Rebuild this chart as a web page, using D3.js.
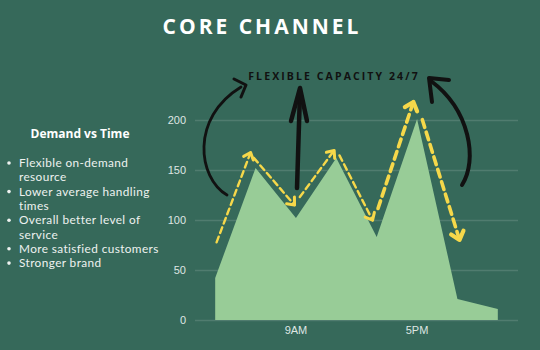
<!DOCTYPE html>
<html>
<head>
<meta charset="utf-8">
<script src="https://cdn.jsdelivr.net/npm/d3@7"></script>
<style>
  html, body { margin: 0; padding: 0; background: #36695a; }
  svg { display: block; }
</style>
</head>
<body>
<svg id="chart" width="540" height="350"></svg>
<script>
// ---- data ----
const categories = ["T1", "T2", "T3", "T4", "T5", "T6", "T7", "T8"];
const demand = [42, 152, 102, 162, 83, 201, 21, 11];
const xTickLabels = ["", "", "9AM", "", "", "5PM", "", ""];
const yTicks = [0, 50, 100, 150, 200];
const title = "CORE CHANNEL";
const annotation = "FLEXIBLE CAPACITY 24/7";
const panelTitle = "Demand vs Time";
const bullets = [
  ["Flexible on-demand", "resource"],
  ["Lower average handling", "times"],
  ["Overall better level of", "service"],
  ["More satisfied customers"],
  ["Stronger brand"]
];

// ---- layout ----
const W = 540, H = 350;
const plot = { left: 195, right: 518, top: 120, bottom: 320 };
const colors = {
  bg: "#36695a", area: "#98cc97", grid: "rgba(255,255,255,0.13)",
  tick: "#dfe6e3", text: "#eef2f0", yellow: "#f6d84a", black: "#111111"
};

const svg = d3.select("#chart");
svg.append("rect").attr("width", W).attr("height", H).attr("fill", colors.bg);

const x = d3.scaleBand().domain(categories).range([plot.left, plot.right]);
const cx = c => x(c) + x.bandwidth() / 2;
const y = d3.scaleLinear().domain([0, 200]).range([plot.bottom, plot.top]);

// grid + y axis
const yAxis = svg.append("g")
  .attr("transform", `translate(${plot.left},0)`)
  .call(d3.axisLeft(y).tickValues(yTicks).tickSize(-(plot.right - plot.left)).tickPadding(9));
yAxis.select(".domain").remove();
yAxis.selectAll(".tick line").attr("stroke", colors.grid).attr("stroke-width", 1.5);
yAxis.selectAll(".tick text").attr("fill", colors.tick)
  .style("font-family", "'Liberation Sans', Arial, sans-serif").style("font-size", "11px");

// area
const pts = categories.map((c, i) => ({ c, v: demand[i] }));
svg.append("path")
  .datum(pts)
  .attr("fill", colors.area)
  .attr("d", d3.area().x(d => cx(d.c)).y0(y(0)).y1(d => y(d.v)));

// x axis
const xAxis = svg.append("g")
  .attr("transform", `translate(0,${plot.bottom})`)
  .call(d3.axisBottom(x).tickSize(0).tickPadding(6).tickFormat((d, i) => xTickLabels[i]));
xAxis.select(".domain").remove();
xAxis.selectAll(".tick text").attr("fill", colors.tick)
  .style("font-family", "'Liberation Sans', Arial, sans-serif").style("font-size", "11px");

// ---- yellow dashed arrows following the outline ----
const arrowSegs = [
  { from: 0, to: 1, t0: 0.29, t1: 1.11, d0: 11, d1: 10, w: 2.4, dash: "6,4", head: 8 },
  { from: 1, to: 2, t0: -0.14, t1: 0.83, d0: 5, d1: 7, w: 2.4, dash: "6,4", head: 8 },
  { from: 2, to: 3, t0: 0.27, t1: 1.07, d0: 8.5, d1: 6, w: 2.4, dash: "6,4", head: 8 },
  { from: 3, to: 4, t0: -0.01, t1: 0.81, d0: 4, d1: 4, w: 2.4, dash: "6,4", head: 8 },
  { from: 4, to: 5, t0: 0.22, t1: 1.12, d0: 8, d1: 9, w: 3.6, dash: "8,5", head: 10 },
  { from: 5, to: 6, t0: 0.01, t1: 0.69, d0: 5, d1: 15, w: 3.6, dash: "8,5", head: 10 }
];
const gY = svg.append("g").attr("fill", "none").attr("stroke", colors.yellow)
  .attr("stroke-linecap", "round").attr("stroke-linejoin", "round");
arrowSegs.forEach(s => {
  const ax = cx(categories[s.from]), ay = y(demand[s.from]);
  const bx = cx(categories[s.to]), by = y(demand[s.to]);
  const len = Math.hypot(bx - ax, by - ay);
  const ux = (bx - ax) / len, uy = (by - ay) / len;
  let nx = uy, ny = -ux;
  if (ny > 0) { nx = -nx; ny = -ny; }
  const sx = ax + ux * len * s.t0 + nx * s.d0, sy = ay + uy * len * s.t0 + ny * s.d0;
  const ex = ax + ux * len * s.t1 + nx * s.d1, ey = ay + uy * len * s.t1 + ny * s.d1;
  gY.append("path").attr("d", `M${sx},${sy}L${ex},${ey}`)
    .attr("stroke-width", s.w).attr("stroke-dasharray", s.dash);
  const dx = (ex - sx), dy = (ey - sy), l2 = Math.hypot(dx, dy);
  const bxu = -dx / l2, byu = -dy / l2;
  const ang = 0.7;
  const rot = a => [bxu * Math.cos(a) - byu * Math.sin(a), bxu * Math.sin(a) + byu * Math.cos(a)];
  const r1 = rot(ang), r2 = rot(-ang);
  gY.append("path")
    .attr("d", `M${ex + r1[0] * s.head},${ey + r1[1] * s.head}L${ex},${ey}L${ex + r2[0] * s.head},${ey + r2[1] * s.head}`)
    .attr("stroke-width", s.w + 0.6);
});

// ---- black hand-drawn arrows ----
const gB = svg.append("g").attr("fill", "none").attr("stroke", colors.black)
  .attr("stroke-linecap", "round").attr("stroke-linejoin", "round");
gB.append("path").attr("d", "M227,195 C198,178 190,118 241,87").attr("stroke-width", 2.8);
gB.append("path").attr("d", "M234,79 L246,85 L241,97").attr("stroke-width", 3);
gB.append("path").attr("d", "M297,188 L300,92").attr("stroke-width", 4.5);
gB.append("path").attr("d", "M291,121 L300,88 L307,121").attr("stroke-width", 4.5);
gB.append("path").attr("d", "M462,185 C478,160 470,110 431,81").attr("stroke-width", 4);
gB.append("path").attr("d", "M449,80 L429,78 L432,102").attr("stroke-width", 4);

// ---- texts ----
svg.append("text").text(title)
  .attr("x", 262).attr("y", 34).attr("text-anchor", "middle")
  .attr("fill", "#ffffff")
  .style("font-family", "'Open Sans', sans-serif").style("font-weight", 700)
  .style("font-size", "21px").style("letter-spacing", "3px");

svg.append("text").text(annotation)
  .attr("x", 334).attr("y", 80).attr("text-anchor", "middle")
  .attr("fill", colors.black)
  .style("font-family", "'Open Sans', sans-serif").style("font-weight", 700)
  .style("font-size", "10.5px").style("letter-spacing", "2.1px");

svg.append("text").text(panelTitle)
  .attr("x", 80).attr("y", 138).attr("text-anchor", "middle")
  .attr("fill", "#ffffff")
  .style("font-family", "'Open Sans', sans-serif").style("font-weight", 700)
  .style("font-size", "12px");

const gL = svg.append("g")
  .style("font-family", "Lato, sans-serif").style("font-size", "11.8px")
  .style("letter-spacing", "0.4px")
  .attr("fill", colors.text);
let line = 0;
bullets.forEach(b => {
  const base = 167 + line * 14.3;
  gL.append("circle").attr("cx", 9).attr("cy", base - 4).attr("r", 1.8);
  b.forEach((t, j) => {
    gL.append("text").text(t).attr("x", 19).attr("y", 167 + (line + j) * 14.3);
  });
  line += b.length;
});
</script>
</body>
</html>
